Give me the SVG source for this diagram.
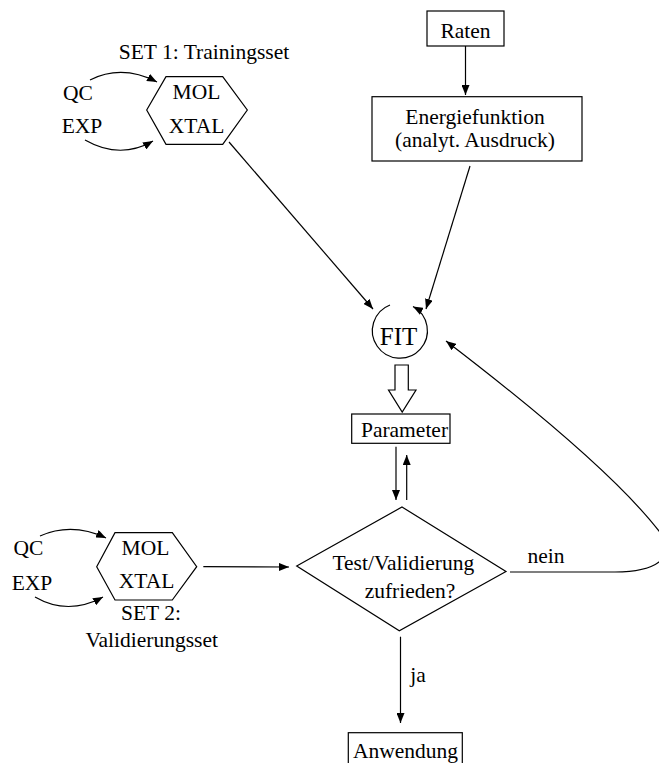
<svg xmlns="http://www.w3.org/2000/svg" width="659" height="763" viewBox="0 0 659 763">
<style>
text{font-family:"Liberation Serif","Times New Roman",serif;font-size:21.5px;fill:#000;text-anchor:middle}
.s{fill:#fff;stroke:#000;stroke-width:1.2}
.c{fill:none;stroke:#000;stroke-width:1.2}
</style>
<defs>
<marker id="ah" viewBox="0 0 10 8" refX="10" refY="4" markerWidth="10" markerHeight="8" markerUnits="userSpaceOnUse" orient="auto">
<path d="M0,0 L10,4 L0,8 Z" fill="#000"/>
</marker>
</defs>
<rect width="659" height="763" fill="#fff"/>
<g id="set1">
<text x="204" y="59">SET 1: Trainingsset</text>
<text x="78" y="100">QC</text>
<text x="82" y="133">EXP</text>
</g>
<g id="hex1">
<polygon class="s" points="146.7,110 166,76.7 222.7,76.7 247.3,110 222.7,144.3 166,144.3"/>
<text x="196.5" y="99">MOL</text>
<text x="196.5" y="132.5">XTAL</text>
</g>
<g id="raten">
<rect class="s" x="427" y="11" width="77" height="35"/>
<text x="465.5" y="38">Raten</text>
</g>
<g id="energie">
<rect class="s" x="372" y="96.7" width="210" height="64.3"/>
<text x="475" y="124">Energiefunktion</text>
<text x="475" y="147">(analyt. Ausdruck)</text>
</g>
<g id="fit">
<text x="398.5" y="345" style="font-size:25px">FIT</text>
<path class="c" d="M390,305 A27.5,27.5 0 1 0 413,306.5" marker-end="url(#ah)"/>
</g>
<g id="hollow">
<polygon class="s" points="395,365 408.3,365 408.3,390 416,390 402.2,412 388.5,390 395,390"/>
</g>
<g id="parameter">
<rect class="s" x="351.7" y="414" width="98.3" height="29.3"/>
<text x="404.5" y="437">Parameter</text>
</g>
<g id="hex2">
<polygon class="s" points="96.7,566.7 115,532.7 172.3,532.7 196.7,566.7 172.3,600 115,600"/>
<text x="145.5" y="555">MOL</text>
<text x="146.5" y="588">XTAL</text>
</g>
<g id="set2">
<text x="28.5" y="555">QC</text>
<text x="32" y="590">EXP</text>
<text x="151" y="620">SET 2:</text>
<text x="151.7" y="646.5">Validierungsset</text>
</g>
<g id="test">
<polygon class="s" points="402,507 506,571.5 399.3,630.7 296.7,566"/>
<text x="403.3" y="570">Test/Validierung</text>
<text x="410" y="598">zufrieden?</text>
</g>
<g id="anwendung">
<rect class="s" x="348.3" y="732.7" width="114" height="40"/>
<text x="405.5" y="758.3">Anwendung</text>
</g>
<g id="connectors">
<path class="c" d="M90,80 Q122,64 157,82" marker-end="url(#ah)"/>
<path class="c" d="M85,140 Q120,160 153,141" marker-end="url(#ah)"/>
<line class="c" x1="465.5" y1="46" x2="465.5" y2="95" marker-end="url(#ah)"/>
<line class="c" x1="229" y1="142" x2="373" y2="309" marker-end="url(#ah)"/>
<line class="c" x1="470" y1="166" x2="426" y2="309" marker-end="url(#ah)"/>
<line class="c" x1="396" y1="446.7" x2="396" y2="500" marker-end="url(#ah)"/>
<line class="c" x1="406.7" y1="500" x2="406.7" y2="455" marker-end="url(#ah)"/>
<path class="c" d="M40,536 Q72,522 106,538" marker-end="url(#ah)"/>
<path class="c" d="M35,597 Q68,616 103,597" marker-end="url(#ah)"/>
<line class="c" x1="203.3" y1="566.7" x2="289" y2="567" marker-end="url(#ah)"/>
<path class="c" d="M510,572 L615,572 C660,572 675,555 662,535 Q612,468 446,341" marker-end="url(#ah)"/>
<text x="546" y="563">nein</text>
<line class="c" x1="400.5" y1="636.7" x2="400.5" y2="723" marker-end="url(#ah)"/>
<text x="418" y="682">ja</text>
</g>
</svg>
